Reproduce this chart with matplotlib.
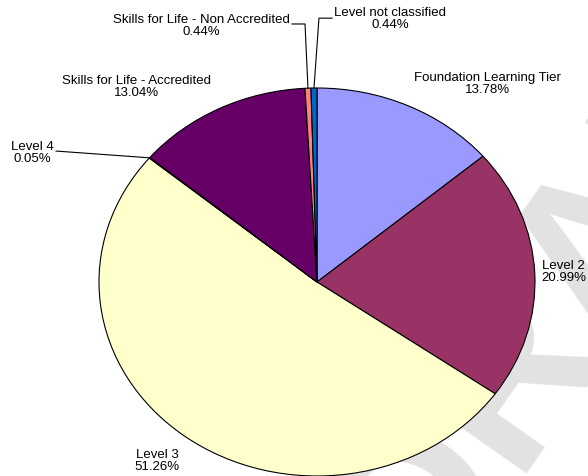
import matplotlib.pyplot as plt
import numpy as np

plt.rcParams['font.family'] = ['Liberation Sans', 'DejaVu Sans']

categories = ["Foundation Learning Tier", "Level 2", "Level 3", "Level 4",
              "Skills for Life - Accredited", "Skills for Life - Non Accredited",
              "Level not classified"]
shares = [13.78, 20.99, 51.26, 0.05, 13.04, 0.44, 0.44]
colors = ["#9999FF", "#993366", "#FFFFCC", "#CCFFFF", "#660066", "#FF8080", "#0066CC"]

# label anchor (data coords, radius 1 = pie edge) and alignment
label_pos = [(0.78, 1.026), (1.234, 0.057), (-0.734, -0.918), (-1.307, 0.67),
             (-0.826, 1.01), (-0.532, 1.325), (0.335, 1.361)]
label_ha = ["center", "right", "center", "center", "center", "center", "center"]

W, H = 588, 477
cx, cy = 317, 283      # pie centre in pixels (from top-left)
rx, ry = 218, 194      # pie radii in pixels (stretched like the original)

fig = plt.figure(figsize=(W / 100, H / 100), dpi=100)

ax = fig.add_axes([0, 0, 1, 1])
ax.pie(shares, colors=colors, startangle=90, counterclock=False,
       wedgeprops=dict(edgecolor="black", linewidth=0.8))
ax.set_aspect("auto")
ax.set_xlim(-cx / rx, (W - cx) / rx)
ax.set_ylim(-(H - cy) / ry, cy / ry)

# faint watermark behind the pie
ax.text(1.0, 0.45, "DRAFT", transform=fig.transFigure, fontsize=160,
        fontweight="bold", color="#e2e2e2", rotation=55, ha="center",
        va="center", zorder=0, clip_on=False)

# slice mid angles, clockwise from top
cum = np.cumsum([0] + shares[:-1])
mid = np.radians(360 * (cum + np.array(shares) / 2) / 100)
edge_x = np.sin(mid)
edge_y = np.cos(mid)

for name, val, (tx, ty), ha in zip(categories, shares, label_pos, label_ha):
    ax.text(tx, ty, f"{name}\n{val:.2f}%", ha=ha, va="center",
            multialignment="center", fontsize=9.5, linespacing=1.05)

# leader lines for the thin slices
i = categories.index("Level 4")
ax.plot([-1.197, edge_x[i]], [0.675, edge_y[i]], color="black", lw=0.8)
i = categories.index("Skills for Life - Non Accredited")
ax.plot([-0.115, -0.055, edge_x[i]], [1.33, 1.33, edge_y[i]], color="black", lw=0.8)
i = categories.index("Level not classified")
ax.plot([0.069, 0.009, edge_x[i]], [1.36, 1.36, edge_y[i]], color="black", lw=0.8)

fig.savefig("out.png", dpi=100)
